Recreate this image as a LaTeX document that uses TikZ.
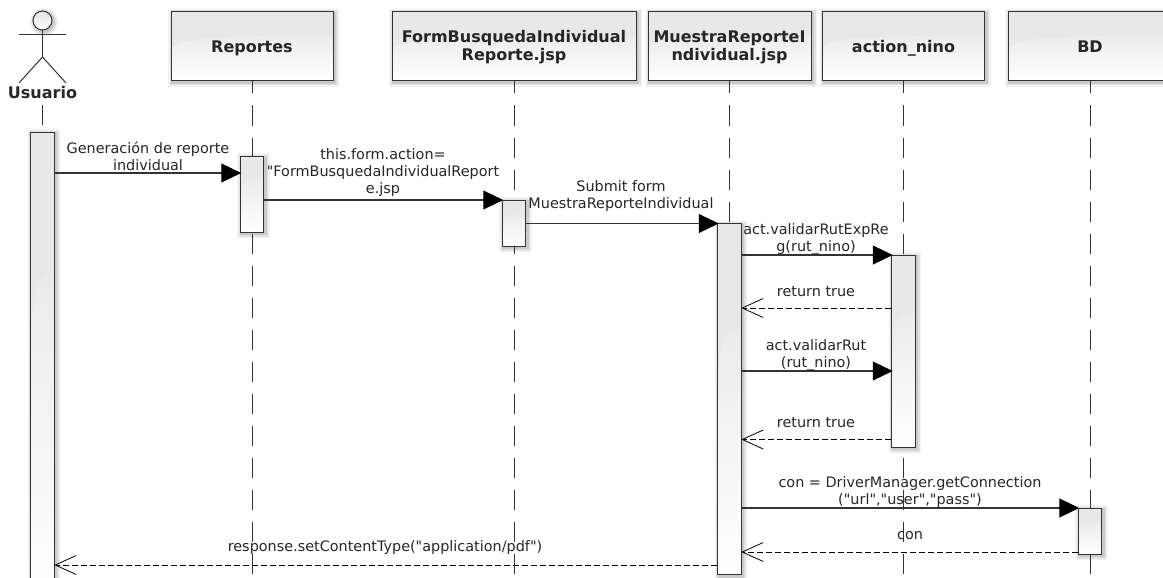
\documentclass[tikz,border=0pt]{standalone}
\usepackage{fontspec}
\setmainfont[Ligatures=TeXOff]{DejaVu Sans}
\usetikzlibrary{arrows.meta,calc}
\definecolor{linegray}{HTML}{333333}
\definecolor{boxtop}{HTML}{E8E8E8}
\definecolor{boxmid}{HTML}{E2E2E2}
\newcommand{\headstrut}{\rule[-3.5pt]{0pt}{18.5pt}}
\newcommand{\toprowstrut}{\rule{0pt}{14pt}}
\tikzset{
    softshadow/.style={
        preaction={draw=black,draw opacity=.05,line width=9pt,transform canvas={shift={(1.5pt,-1.5pt)}}},
        preaction={draw=black,draw opacity=.07,line width=6pt,transform canvas={shift={(1.5pt,-1.5pt)}}},
        preaction={draw=black,draw opacity=.10,line width=3pt,transform canvas={shift={(1.5pt,-1.5pt)}}}},
    glossbox/.style={rectangle,inner sep=0pt,draw=linegray,line width=1pt,softshadow,
        top color=boxmid,bottom color=white,
        path picture={
            \fill[boxtop] (path picture bounding box.north west) -- (path picture bounding box.north east)
                -- ($(path picture bounding box.north east)!#1!(path picture bounding box.south east)$)
                .. controls ($(path picture bounding box.north)!#1!(path picture bounding box.south)$) and ($(path picture bounding box.north west)!#1!(path picture bounding box.south west)$)
                .. ($(path picture bounding box.north west)!1.6*#1!(path picture bounding box.south west)$) -- cycle;}},
    headbox/.style={glossbox=0.34,align=center,font=\fontsize{16}{18}\selectfont\bfseries,text=black!85},
    activation/.style={glossbox=0.3},
    lifeline/.style={draw=linegray,line width=1pt,dash pattern=on 20pt off 12pt,dash phase=8pt},
    call/.style={draw=linegray,line width=1.1pt,-{Triangle[length=20pt,width=19pt,color=black,fill=black,sep=-1.5pt]}},
    reply/.style={draw=black,line width=.9pt,dash pattern=on 6pt off 3pt,-{Straight Barb[length=21pt,width=19pt,line width=.8pt,sep=-.5pt]}},
    msglabel/.style={align=center,inner sep=0pt,font=\fontsize{14.4}{17}\selectfont,text=black!85}
}
\begin{document}
\begin{tikzpicture}[x=1pt,y=-1pt]
    \useasboundingbox (0,0) rectangle (1163,578);
    \clip (0,0) rectangle (1163,578);

    \node[circle,inner sep=0pt,minimum size=19pt,draw=linegray,line width=1pt,softshadow,top color=boxmid,bottom color=white] (head) at (42.5,20.5) {};
    \coordinate (neck) at (42.5,35);
    \coordinate (hip) at (42.5,57);
    \coordinate (handL) at (19,35);
    \coordinate (handR) at (66,35);
    \coordinate (footL) at (19,83);
    \coordinate (footR) at (66,83);
    \draw[linegray,line width=1pt] (head) -- (hip);
    \draw[linegray,line width=1pt] (handL) -- (handR);
    \draw[linegray,line width=1pt] (footL) -- (hip) -- (footR);
    \node[inner sep=0pt,font=\fontsize{16}{18}\selectfont\bfseries,text=black!85] (usuario) at (42.5,93) {Usuario};

    \node[headbox,minimum width=162pt,minimum height=69pt] (reportes) at (252,46.5) {\headstrut Reportes};
    \node[headbox,minimum width=244pt,minimum height=69pt] (form) at (514,46.5) {\toprowstrut FormBusquedaIndividual\\Reporte.jsp};
    \node[headbox,minimum width=163pt,minimum height=69pt] (muestra) at (729.5,46.5) {\toprowstrut MuestraReporteI\\ndividual.jsp};
    \node[headbox,minimum width=162pt,minimum height=69pt] (action) at (903.5,46.5) {\headstrut action\_nino};
    \node[headbox,minimum width=164pt,minimum height=69pt] (bd) at (1090,46.5) {\headstrut BD};

    \coordinate (usuarioEnd) at (42.5,578);
    \coordinate (reportesEnd) at (252,578);
    \coordinate (formEnd) at (514,578);
    \coordinate (muestraEnd) at (729.5,578);
    \coordinate (actionEnd) at (903.5,578);
    \coordinate (bdEnd) at (1090,578);
    \draw[lifeline,dash phase=0pt] (usuario.south |- 0,105) -- (usuarioEnd);
    \draw[lifeline] (reportes) -- (reportesEnd);
    \draw[lifeline] (form) -- (formEnd);
    \draw[lifeline] (muestra) -- (muestraEnd);
    \draw[lifeline] (action) -- (actionEnd);
    \draw[lifeline] (bd) -- (bdEnd);

    \node[activation,minimum width=23.5pt,minimum height=468pt] (barUsuario) at (42.5,366) {};
    \node[activation,minimum width=23.5pt,minimum height=76pt] (barReportes) at (252,194) {};
    \node[activation,minimum width=23.5pt,minimum height=46pt] (barForm) at (514,223) {};
    \node[activation,minimum width=23.5pt,minimum height=351pt] (barMuestra) at (729.5,399) {};
    \node[activation,minimum width=23.5pt,minimum height=192pt] (barAction) at (903.5,351) {};
    \node[activation,minimum width=23.5pt,minimum height=46pt] (barBd) at (1090,531) {};

    \coordinate (m1) at (0,173);
    \coordinate (m2) at (0,200);
    \coordinate (m3) at (0,223.5);
    \coordinate (m4) at (0,255);
    \coordinate (m5) at (0,308);
    \coordinate (m6) at (0,371);
    \coordinate (m7) at (0,439.5);
    \coordinate (m8) at (0,508);
    \coordinate (m9) at (0,552);
    \coordinate (m10) at (0,565);

    \draw[call] (barUsuario.east |- m1) -- (barReportes.west |- m1);
    \draw[call] (barReportes.east |- m2) -- (barForm.west |- m2);
    \draw[call] (barForm.east |- m3) -- (barMuestra.west |- m3);
    \draw[call] (barMuestra.east |- m4) -- (barAction.west |- m4);
    \draw[reply] (barAction.west |- m5) -- (barMuestra.east |- m5);
    \draw[call] (barMuestra.east |- m6) -- (barAction.west |- m6);
    \draw[reply] (barAction.west |- m7) -- (barMuestra.east |- m7);
    \draw[call] (barMuestra.east |- m8) -- (barBd.west |- m8);
    \draw[reply] (barBd.west |- m9) -- (barMuestra.east |- m9);
    \draw[reply] (barMuestra.west |- m10) -- (barUsuario.east |- m10);

    \node[msglabel] (l1) at (148,156.5) {Generación de reporte\\individual};
    \node[msglabel] (l2) at (383,173) {this.form.action=\\"FormBusquedaIndividualReport\\e.jsp};
    \node[msglabel] (l3) at (621,196) {Submit form\\MuestraReporteIndividual};
    \node[msglabel] (l4) at (816,239.5) {act.validarRutExpRe\\g(rut\_nino)};
    \node[msglabel] (l5) at (816,292) {return true};
    \node[msglabel] (l6) at (816,355.5) {act.validarRut\\(rut\_nino)};
    \node[msglabel] (l7) at (816,423) {return true};
    \node[msglabel] (l8) at (910,492.5) {con = DriverManager.getConnection\\("url","user","pass")};
    \node[msglabel] (l9) at (910,536) {con};
    \node[msglabel] (l10) at (385,548) {response.setContentType("application/pdf")};
\end{tikzpicture}
\end{document}
